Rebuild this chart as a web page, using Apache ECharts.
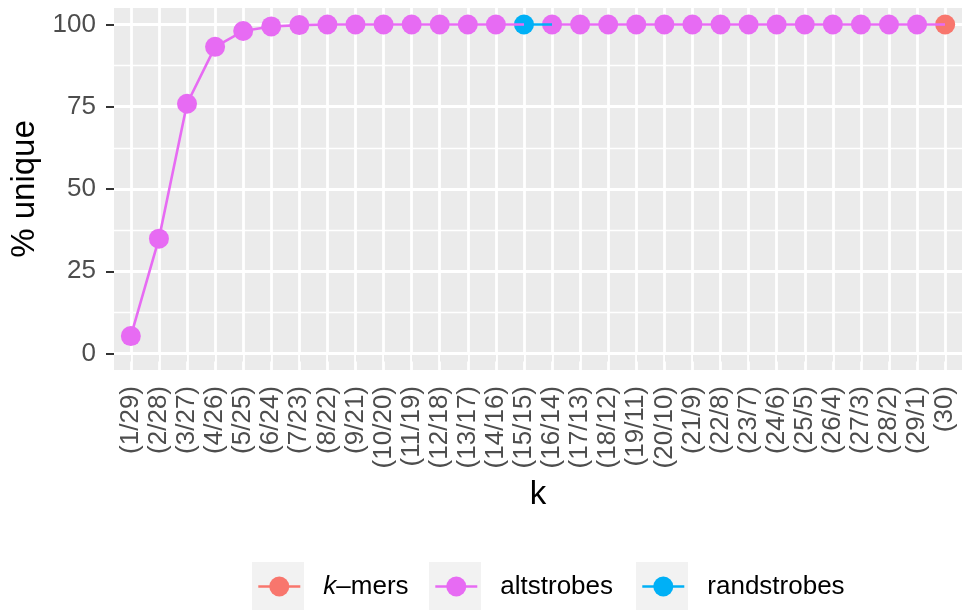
<!DOCTYPE html>
<html>
<head>
<meta charset="utf-8">
<script src="https://cdn.jsdelivr.net/npm/echarts@6/dist/echarts.min.js"></script>
<style>
  html, body { margin: 0; padding: 0; background: #ffffff; }
  #chart { width: 964px; height: 611px; }
</style>
</head>
<body>
<div id="chart"></div>
<script>
// k values (strobe lengths) shown along the x axis
const categories = [
  '(1/29)', '(2/28)', '(3/27)', '(4/26)', '(5/25)', '(6/24)', '(7/23)', '(8/22)',
  '(9/21)', '(10/20)', '(11/19)', '(12/18)', '(13/17)', '(14/16)', '(15/15)',
  '(16/14)', '(17/13)', '(18/12)', '(19/11)', '(20/10)', '(21/9)', '(22/8)',
  '(23/7)', '(24/6)', '(25/5)', '(26/4)', '(27/3)', '(28/2)', '(29/1)', '(30)'
];

// percentage of unique seeds for each k
const pctUnique = [
  5.3, 34.9, 75.9, 93.2, 98.0, 99.4, 99.8, 100, 100, 100,
  100, 100, 100, 100, 100, 100, 100, 100, 100, 100,
  100, 100, 100, 100, 100, 100, 100, 100, 100, 100
];

// seeding method behind each k
const methodOf = [
  'altstrobes', 'altstrobes', 'altstrobes', 'altstrobes', 'altstrobes',
  'altstrobes', 'altstrobes', 'altstrobes', 'altstrobes', 'altstrobes',
  'altstrobes', 'altstrobes', 'altstrobes', 'altstrobes', 'randstrobes',
  'altstrobes', 'altstrobes', 'altstrobes', 'altstrobes', 'altstrobes',
  'altstrobes', 'altstrobes', 'altstrobes', 'altstrobes', 'altstrobes',
  'altstrobes', 'altstrobes', 'altstrobes', 'altstrobes', 'k-mers'
];

const methods = ['k-mers', 'altstrobes', 'randstrobes'];
const methodColors = ['#F8766D', '#E76BF3', '#00B0F6'];

const yTicks = [0, 25, 50, 75, 100];
const yMinorTicks = [12.5, 37.5, 62.5, 87.5];

// ---- derived structures ----
const xPos = categories.map((c, i) => i + 1);
const colorOf = m => methodColors[methods.indexOf(m)];
const FONT = "'Liberation Sans', Arial, Helvetica, sans-serif";
const TICK_FONT = 26;
const TITLE_FONT = 33;

// white panel grid lines, drawn as mark lines under the data
const gridLines = [].concat(
  yMinorTicks.map(v => ({ yAxis: v, lineStyle: { width: 1.4 } })),
  yTicks.map(v => ({ yAxis: v, lineStyle: { width: 2.8 } })),
  xPos.map(v => ({ xAxis: v, lineStyle: { width: 2.8 } }))
);

// one point series per method
const pointSeries = methods.map((m, k) => ({
  type: 'line',
  name: m,
  data: xPos.filter((x, i) => methodOf[i] === m).map(x => [x, pctUnique[x - 1]]),
  symbol: 'circle',
  symbolSize: 20,
  showSymbol: true,
  lineStyle: { opacity: 0, color: methodColors[k] },
  itemStyle: { color: methodColors[k] },
  z: 2,
  animation: false,
  silent: true
}));
pointSeries[0].markLine = {
  silent: true,
  animation: false,
  symbol: ['none', 'none'],
  label: { show: false },
  z: 1,
  lineStyle: { color: '#ffffff', type: 'solid', width: 2.8 },
  emphasis: { disabled: true },
  data: gridLines
};

// connecting path, each segment coloured by the method of its starting point
const path = {
  type: 'line',
  name: 'path',
  data: xPos.map(x => [x, pctUnique[x - 1]]),
  showSymbol: false,
  lineStyle: { width: 2.6 },
  z: 3,
  animation: false,
  silent: true
};
const segmentPieces = xPos.map((x, i) =>
  i < xPos.length - 1
    ? { gte: x, lt: x + 1, color: colorOf(methodOf[i]) }
    : { gte: x, lte: x + 1, color: colorOf(methodOf[i]) }
);

const keyLeft = [252, 429, 636];

const option = {
  animation: false,
  textStyle: { fontFamily: FONT },
  grid: {
    left: 114, right: 2, top: 8, bottom: 241,
    show: true, backgroundColor: '#EBEBEB', borderWidth: 0,
    containLabel: false, outerBoundsMode: 'none'
  },
  xAxis: {
    type: 'value',
    min: 0.4, max: 30.6,
    name: 'k',
    nameLocation: 'middle',
    nameGap: 108,
    nameTextStyle: { fontSize: TITLE_FONT, color: '#000000', fontFamily: FONT },
    axisLine: { show: false },
    splitLine: { show: false },
    axisTick: { show: true, customValues: xPos, length: 8, lineStyle: { color: '#333333', width: 2 } },
    axisLabel: {
      customValues: xPos,
      formatter: v => categories[Math.round(v) - 1],
      rotate: 90,
      margin: 16,
      fontSize: TICK_FONT,
      color: '#4D4D4D',
      fontFamily: FONT
    }
  },
  yAxis: {
    type: 'value',
    min: -5, max: 105,
    name: '% unique',
    nameLocation: 'middle',
    nameRotate: 90,
    nameGap: 69,
    nameTextStyle: { fontSize: TITLE_FONT, color: '#000000', fontFamily: FONT },
    axisLine: { show: false },
    splitLine: { show: false },
    axisTick: { show: true, customValues: yTicks, length: 8, lineStyle: { color: '#333333', width: 2 } },
    axisLabel: { customValues: yTicks, margin: 18, fontSize: TICK_FONT, color: '#4D4D4D', fontFamily: FONT }
  },
  visualMap: {
    type: 'piecewise',
    show: false,
    seriesIndex: 3,
    dimension: 0,
    pieces: segmentPieces
  },
  legend: methods.map((m, k) => ({
    data: [m],
    left: keyLeft[k] + 5,
    top: 573.5,
    padding: 0,
    itemWidth: 42,
    itemHeight: 25,
    selectedMode: false,
    lineStyle: { width: 2.6, opacity: 1 },
    formatter: n => n === 'k-mers' ? '{i|k}–mers' : n,
    textStyle: {
      fontSize: TICK_FONT, color: '#000000', fontFamily: FONT,
      padding: [0, 0, 0, 18],
      rich: { i: { fontSize: TICK_FONT, fontStyle: 'italic', fontFamily: FONT, color: '#000000' } }
    }
  })),
  graphic: keyLeft.map(x => ({
    type: 'rect',
    left: x, top: 562,
    shape: { width: 52, height: 48 },
    style: { fill: '#F2F2F2' },
    z: -10,
    silent: true
  })),
  series: pointSeries.concat([path])
};

const chart = echarts.init(document.getElementById('chart'), null, { renderer: 'canvas' });
chart.setOption(option);
</script>
</body>
</html>
